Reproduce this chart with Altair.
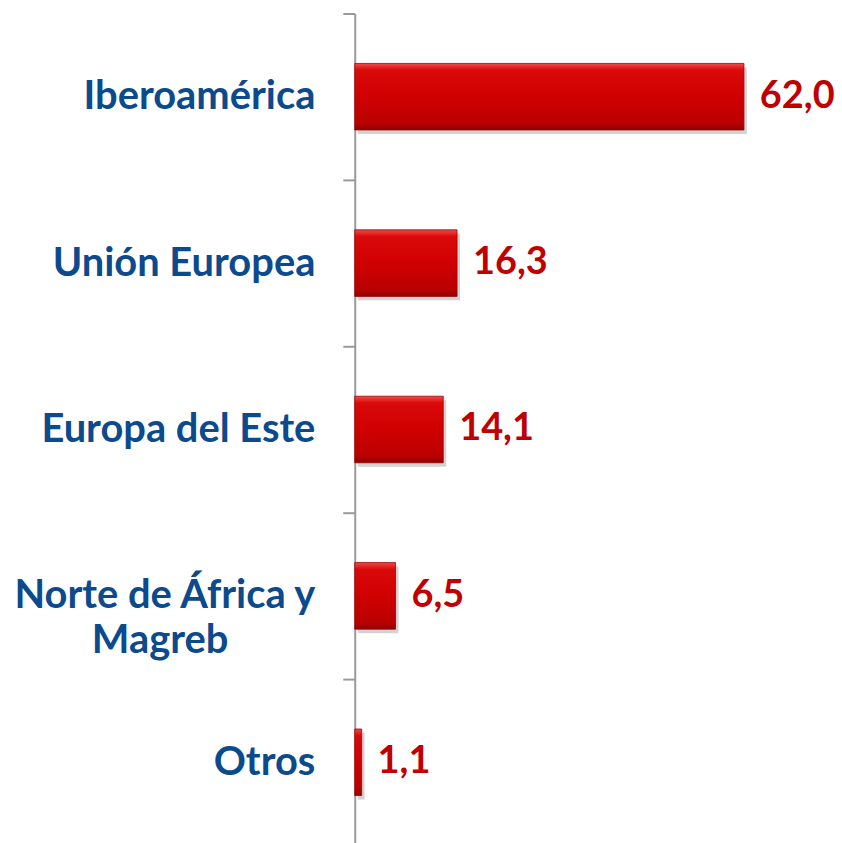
import altair as alt
import pandas as pd

categories = ["Iberoamérica", "Unión Europea", "Europa del Este", "Norte de África y|Magreb", "Otros"]
values = [62.0, 16.3, 14.1, 6.5, 1.1]
labels = [f"{v:.1f}".replace(".", ",") for v in values]

df = pd.DataFrame({"region": categories, "value": values, "label": labels})

pad = "\u2800" * 3
label_expr = (
    "indexof(datum.label, '|') >= 0 ? "
    f"[split(datum.label, '|')[0], split(datum.label, '|')[1] + '{pad}'] : datum.label"
)

y = alt.Y(
    "region:N",
    sort=categories,
    title=None,
    scale=alt.Scale(paddingInner=0, paddingOuter=0),
    axis=alt.Axis(
        tickBand="extent",
        tickSize=12,
        tickColor="#9a9a9a",
        tickWidth=2,
        domainColor="#9a9a9a",
        domainWidth=2,
        labelFont="Lato",
        labelFontSize=40,
        labelFontWeight="bold",
        labelColor="#0B4A8C",
        labelExpr=label_expr,
        labelLineHeight=45,
        labelAlign="right",
        labelPadding=28,
        labelLimit=400,
        grid=False,
    ),
)
x = alt.X("value:Q", scale=alt.Scale(domain=[0, 70]), axis=None)

grad = alt.LinearGradient(
    gradient="linear",
    stops=[
        alt.GradientStop(color="#F04A4A", offset=0),
        alt.GradientStop(color="#DA0A0A", offset=0.1),
        alt.GradientStop(color="#D00000", offset=0.5),
        alt.GradientStop(color="#BA0000", offset=0.9),
        alt.GradientStop(color="#8E0000", offset=1),
    ],
    x1=0, x2=0, y1=0, y2=1,
)

base = alt.Chart(df)
shadow = base.mark_bar(color="#6e6e6e", opacity=0.3, height=alt.RelativeBandSize(0.4),
                       xOffset=3, yOffset=4).encode(x=x, y=y)
bars = base.mark_bar(color=grad, height=alt.RelativeBandSize(0.4),
                     stroke="#A00000", strokeWidth=0.8).encode(x=x, y=y)
text = base.mark_text(align="left", baseline="middle", dx=16, font="Lato", fontSize=38,
                      fontWeight="bold", color="#C00000").encode(x=x, y=y, text="label:N")

chart = (
    alt.layer(shadow, bars, text)
    .properties(width=441, height=835, autosize="none",
                padding={"left": 348, "top": 4, "right": 40, "bottom": 0})
    .configure_view(stroke=None)
)

chart.save("out.html", embed_options={"renderer": "svg", "actions": False})
